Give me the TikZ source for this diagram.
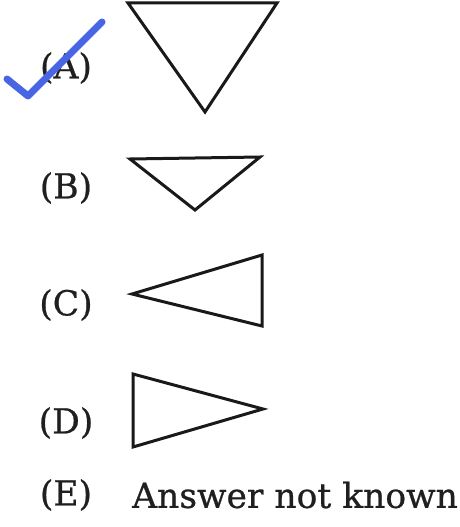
\documentclass[tikz,border=0pt]{standalone}
\usepackage{fontspec}
\setmainfont{DejaVu Serif}
\newfontfamily\labfont{DejaVu Serif}[FakeBold=0.7]
\begin{document}
\begin{tikzpicture}[x=1pt,y=-1pt,
  tri/.style={draw=black!90,line width=3pt,line join=miter},
  lab/.style={font=\labfont\fontsize{34.5}{34.5}\selectfont,text=black!88,inner sep=0pt,anchor=center},
  check/.style={draw={rgb,255:red,72;green,102;blue,228},line width=7pt,line cap=round,line join=round}]
\useasboundingbox (0,0) rectangle (460,527);
% triangles
\coordinate (a1) at (128,3); \coordinate (a2) at (277,3); \coordinate (a3) at (205,112);
\draw[tri] (a1) -- (a2) -- (a3) -- cycle;
\coordinate (b1) at (130,159); \coordinate (b2) at (260,157); \coordinate (b3) at (195,210);
\draw[tri] (b1) -- (b2) -- (b3) -- cycle;
\coordinate (c1) at (132,294); \coordinate (c2) at (262,255); \coordinate (c3) at (262,326);
\draw[tri] (c1) -- (c2) -- (c3) -- cycle;
\coordinate (d1) at (133,374); \coordinate (d2) at (263,409); \coordinate (d3) at (133,447);
\draw[tri] (d1) -- (d2) -- (d3) -- cycle;
% labels
\node[lab] (la) at (66,68) {(A)};
\node[lab] (lb) at (66,188) {(B)};
\node[lab] (lc) at (66,305) {(C)};
\node[lab] (ld) at (66,423) {(D)};
\node[lab] (le) at (66,495) {(E)};
\node[lab,anchor=west] (ans) at (132,495) {Answer not known};
% check mark
\coordinate (k1) at (7,79); \coordinate (k2) at (28,96); \coordinate (k3) at (102,22);
\draw[check] (k1) -- (k2) -- (k3);
\end{tikzpicture}
\end{document}
